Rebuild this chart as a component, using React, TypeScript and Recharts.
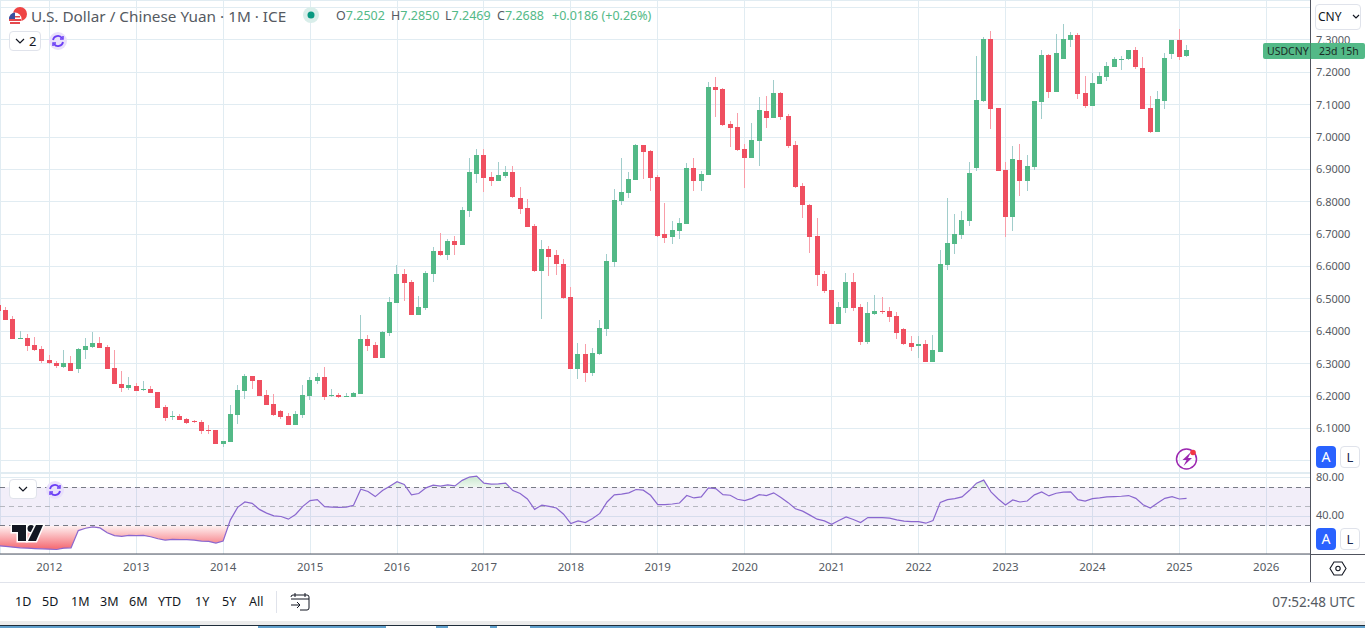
import { Area, Bar, CartesianGrid, ComposedChart, Line, ReferenceArea, ReferenceLine, XAxis, YAxis } from 'recharts';

// monthly candles, first one is Jun 2011 (index -7), index 0 = Jan 2012
const opens = [
  6.481, 6.466, 6.438, 6.376, 6.379, 6.357, 6.345,
  6.311, 6.302, 6.290, 6.302, 6.283, 6.342, 6.351, 6.364, 6.351, 6.286, 6.237, 6.225,
  6.231, 6.218, 6.221, 6.212, 6.166, 6.135, 6.138, 6.129, 6.123, 6.120, 6.095, 6.095,
  6.052, 6.058, 6.141, 6.215, 6.262, 6.249, 6.203, 6.175, 6.154, 6.138, 6.110, 6.141,
  6.200, 6.246, 6.259, 6.200, 6.203, 6.197, 6.197, 6.206, 6.376, 6.357, 6.317, 6.394,
  6.487, 6.577, 6.552, 6.450, 6.472, 6.577, 6.648, 6.635, 6.679, 6.666, 6.771, 6.886,
  6.944, 6.876, 6.864, 6.880, 6.892, 6.812, 6.781, 6.725, 6.586, 6.654, 6.635, 6.608,
  6.506, 6.283, 6.329, 6.271, 6.329, 6.407, 6.614, 6.802, 6.827, 6.867, 6.975, 6.957,
  6.876, 6.700, 6.691, 6.710, 6.731, 6.904, 6.864, 6.883, 7.154, 7.148, 7.040, 7.031,
  6.963, 6.935, 6.988, 7.080, 7.059, 7.136, 7.065, 6.975, 6.849, 6.790, 6.694, 6.577,
  6.527, 6.422, 6.472, 6.552, 6.475, 6.366, 6.453, 6.462, 6.462, 6.447, 6.407, 6.363,
  6.354, 6.360, 6.305, 6.336, 6.604, 6.669, 6.697, 6.740, 6.904, 7.111, 7.303, 7.089,
  6.898, 6.753, 6.929, 6.864, 6.907, 7.108, 7.253, 7.139, 7.241, 7.300, 7.315, 7.136,
  7.096, 7.164, 7.185, 7.216, 7.238, 7.241, 7.269, 7.213, 7.089, 7.015, 7.111, 7.256,
  7.300, 7.2502,
];
const closes = [
  6.464, 6.435, 6.376, 6.379, 6.354, 6.342, 6.308,
  6.302, 6.293, 6.302, 6.277, 6.345, 6.354, 6.364, 6.348, 6.283, 6.237, 6.225, 6.234,
  6.215, 6.221, 6.209, 6.163, 6.132, 6.138, 6.126, 6.117, 6.120, 6.092, 6.092, 6.052,
  6.061, 6.144, 6.218, 6.262, 6.246, 6.200, 6.172, 6.141, 6.135, 6.110, 6.144, 6.203,
  6.249, 6.259, 6.197, 6.203, 6.197, 6.200, 6.209, 6.376, 6.354, 6.317, 6.397, 6.490,
  6.577, 6.549, 6.450, 6.475, 6.580, 6.648, 6.635, 6.679, 6.666, 6.774, 6.892, 6.944,
  6.873, 6.864, 6.883, 6.892, 6.815, 6.777, 6.722, 6.586, 6.654, 6.629, 6.608, 6.502,
  6.283, 6.329, 6.271, 6.333, 6.410, 6.617, 6.805, 6.830, 6.870, 6.975, 6.954, 6.873,
  6.694, 6.688, 6.713, 6.734, 6.904, 6.864, 6.886, 7.154, 7.145, 7.037, 7.028, 6.960,
  6.935, 6.991, 7.083, 7.059, 7.136, 7.062, 6.972, 6.845, 6.790, 6.691, 6.574, 6.524,
  6.422, 6.475, 6.552, 6.472, 6.366, 6.456, 6.462, 6.459, 6.444, 6.394, 6.360, 6.351,
  6.360, 6.305, 6.342, 6.608, 6.672, 6.700, 6.743, 6.889, 7.114, 7.303, 7.086, 6.895,
  6.753, 6.932, 6.864, 6.910, 7.111, 7.253, 7.139, 7.259, 7.303, 7.315, 7.133, 7.096,
  7.167, 7.188, 7.219, 7.241, 7.241, 7.269, 7.216, 7.086, 7.015, 7.117, 7.244, 7.300,
  7.247, 7.2688,
];
const highs = [
  6.485, 6.474, 6.446, 6.401, 6.391, 6.382, 6.354,
  6.327, 6.308, 6.342, 6.324, 6.348, 6.379, 6.398, 6.382, 6.357, 6.342, 6.277, 6.259,
  6.240, 6.246, 6.231, 6.213, 6.172, 6.154, 6.144, 6.132, 6.126, 6.126, 6.110, 6.096,
  6.062, 6.172, 6.234, 6.268, 6.263, 6.250, 6.218, 6.206, 6.157, 6.147, 6.154, 6.234,
  6.259, 6.271, 6.290, 6.221, 6.209, 6.209, 6.212, 6.450, 6.388, 6.367, 6.400, 6.506,
  6.604, 6.592, 6.558, 6.509, 6.586, 6.660, 6.703, 6.685, 6.694, 6.784, 6.935, 6.963,
  6.963, 6.892, 6.923, 6.910, 6.910, 6.845, 6.808, 6.731, 6.682, 6.663, 6.651, 6.623,
  6.536, 6.363, 6.360, 6.348, 6.435, 6.638, 6.839, 6.935, 6.892, 6.978, 6.976, 6.960,
  6.883, 6.796, 6.740, 6.750, 6.920, 6.935, 6.895, 7.170, 7.185, 7.151, 7.049, 7.074,
  6.978, 7.043, 7.124, 7.127, 7.176, 7.139, 7.071, 6.988, 6.858, 6.793, 6.750, 6.586,
  6.528, 6.490, 6.580, 6.580, 6.484, 6.490, 6.512, 6.506, 6.475, 6.459, 6.410, 6.385,
  6.385, 6.373, 6.388, 6.651, 6.811, 6.762, 6.771, 6.923, 7.250, 7.309, 7.327, 7.090,
  6.923, 6.972, 6.978, 6.944, 7.112, 7.269, 7.256, 7.318, 7.349, 7.324, 7.321, 7.188,
  7.198, 7.201, 7.232, 7.247, 7.250, 7.270, 7.278, 7.247, 7.127, 7.142, 7.259, 7.301,
  7.334, 7.2850,
];
const lows = [
  6.463, 6.434, 6.375, 6.376, 6.339, 6.339, 6.302,
  6.299, 6.286, 6.286, 6.276, 6.271, 6.314, 6.348, 6.347, 6.282, 6.236, 6.212, 6.218,
  6.214, 6.217, 6.208, 6.162, 6.123, 6.126, 6.125, 6.113, 6.117, 6.083, 6.083, 6.051,
  6.042, 6.057, 6.113, 6.191, 6.221, 6.199, 6.171, 6.138, 6.129, 6.109, 6.109, 6.132,
  6.188, 6.237, 6.188, 6.198, 6.194, 6.196, 6.196, 6.205, 6.339, 6.316, 6.316, 6.385,
  6.486, 6.493, 6.449, 6.449, 6.465, 6.552, 6.634, 6.620, 6.635, 6.665, 6.753, 6.858,
  6.830, 6.849, 6.863, 6.873, 6.812, 6.762, 6.721, 6.583, 6.438, 6.571, 6.574, 6.501,
  6.282, 6.252, 6.243, 6.262, 6.326, 6.385, 6.598, 6.790, 6.812, 6.866, 6.870, 6.833,
  6.691, 6.672, 6.669, 6.685, 6.730, 6.833, 6.833, 6.882, 7.062, 7.034, 6.969, 6.957,
  6.842, 6.934, 6.910, 7.028, 7.058, 7.052, 6.966, 6.842, 6.750, 6.642, 6.540, 6.518,
  6.421, 6.421, 6.456, 6.462, 6.357, 6.360, 6.450, 6.453, 6.428, 6.376, 6.359, 6.339,
  6.317, 6.304, 6.304, 6.335, 6.589, 6.638, 6.685, 6.725, 6.895, 7.108, 7.025, 6.894,
  6.691, 6.709, 6.818, 6.833, 6.898, 7.056, 7.120, 7.138, 7.240, 7.278, 7.117, 7.089,
  7.095, 7.163, 7.173, 7.215, 7.207, 7.238, 7.210, 7.085, 7.012, 7.014, 7.086, 7.241,
  7.238, 7.2469,
];
const rsiValues = [
  9.1, 8.4, 7.6, 6.9, 6.6, 6.2, 5.9,
  5.5, 5.2, 6.6, 6.9, 24.9, 27.3, 28.7, 27.7, 22.7, 19.6, 18.9, 19.9,
  19.6, 19.9, 18.5, 16.4, 15.0, 15.7, 15.4, 15.4, 15.0, 14.0, 13.6, 11.9,
  14.0, 36.1, 49.1, 54.7, 53.3, 47.0, 43.1, 40.3, 39.6, 36.8, 41.7, 50.1,
  56.1, 57.2, 49.8, 49.4, 49.1, 49.4, 51.2, 68.0, 65.6, 60.3, 66.6, 71.2,
  75.8, 73.0, 62.1, 63.5, 69.4, 72.2, 71.2, 72.6, 71.5, 77.2, 80.7, 81.7,
  74.3, 73.3, 73.6, 74.3, 66.6, 63.5, 57.8, 47.0, 51.5, 50.1, 48.4, 42.0,
  32.2, 35.0, 33.3, 37.5, 42.8, 54.7, 62.1, 62.8, 64.2, 67.7, 67.0, 61.7,
  51.9, 51.9, 52.6, 53.6, 61.4, 58.9, 60.0, 69.4, 68.7, 62.4, 61.7, 57.5,
  56.1, 58.5, 62.4, 61.4, 64.2, 59.3, 54.0, 47.7, 45.2, 41.0, 36.8, 35.0,
  31.5, 35.4, 39.2, 36.4, 33.3, 38.5, 38.5, 38.5, 37.8, 36.1, 34.7, 34.3,
  34.3, 32.6, 35.4, 54.3, 57.2, 58.2, 60.0, 66.6, 74.3, 77.5, 65.2, 57.8,
  51.5, 56.8, 54.7, 55.7, 62.1, 65.2, 61.0, 63.8, 64.9, 65.2, 57.2, 55.7,
  58.2, 58.9, 60.0, 60.3, 60.7, 61.4, 58.5, 51.9, 48.4, 53.6, 58.5, 60.3,
  57.8, 58.5,
];
const firstMonth = -7;
const yearTicks = [0, 12, 24, 36, 48, 60, 72, 84, 96, 108, 120, 132, 144, 156, 168];
const yearLabels = ['2012', '2013', '2014', '2015', '2016', '2017', '2018', '2019', '2020', '2021', '2022', '2023', '2024', '2025', '2026'];
const priceTicks = [6.0, 6.1, 6.2, 6.3, 6.4, 6.5, 6.6, 6.7, 6.8, 6.9, 7.0, 7.1, 7.2, 7.3, 7.4];
const rsiTicks = [40, 80];

const rows = opens.map((open, i) => ({
  month: i + firstMonth,
  open,
  close: closes[i],
  high: highs[i],
  low: lows[i],
  rsi: rsiValues[i],
}));

const xDomain: [number, number] = [-6.806, 174.04];
const priceDomain: [number, number] = [5.9653, 7.4232];
const rsiDomain: [number, number] = [0.5, 84.9];

const FONT = '"Noto Sans", sans-serif';
const GRID = '#e1ecf2';
const TEXT = '#555a62';
const UP = '#53b987';
const DOWN = '#ef4f60';
const UP_WICK = '#a1cdcb';
const DOWN_WICK = '#f89ea9';

function Candle(props: any) {
  const { x, width, y, height, payload } = props;
  const { open, close, high, low } = payload;
  const toY = (v: number) => y + ((high - v) / (high - low)) * height;
  const up = close >= open;
  const left = Math.round(x + width / 2 - 2.5);
  const top = Math.round(toY(Math.max(open, close)));
  const bottom = Math.round(toY(Math.min(open, close)));
  const wickTop = Math.round(y);
  const wickBottom = Math.round(y + height);
  return (
    <g shapeRendering="crispEdges">
      <rect x={left + 2} y={wickTop} width={1} height={Math.max(wickBottom - wickTop, 1)} fill={up ? UP_WICK : DOWN_WICK} />
      <rect x={left} y={top} width={5} height={Math.max(bottom - top, 1)} fill={up ? UP : DOWN} />
    </g>
  );
}

function Txt({ x, y, right, size = 13, color = TEXT, children }: any) {
  const pos = right !== undefined ? { right } : { left: x };
  return (
    <div style={{ position: 'absolute', top: y, ...pos, fontSize: size, lineHeight: '18px', color, whiteSpace: 'nowrap' }}>
      {children}
    </div>
  );
}

function Box({ x, y, w, h, border = '#e0e3eb', bg = '#fff', radius = 4, children }: any) {
  return (
    <div
      style={{
        position: 'absolute', left: x, top: y, width: w, height: h, boxSizing: 'border-box',
        border: border === 'none' ? 'none' : `1px solid ${border}`, background: bg, borderRadius: radius,
      }}
    >
      {children}
    </div>
  );
}

function Refresh({ cx, cy }: { cx: number; cy: number }) {
  return (
    <g>
      <circle cx={cx} cy={cy} r={9} fill="#e9e0fb" />
      <path d={`M${cx - 5} ${cy - 1}a5 5 0 0 1 9 -2M${cx + 5} ${cy + 1}a5 5 0 0 1 -9 2`} fill="none" stroke="#6a3df5" strokeWidth={1.8} />
      <path d={`M${cx + 5} ${cy - 5}v3h-3M${cx - 5} ${cy + 5}v-3h3`} fill="none" stroke="#6a3df5" strokeWidth={1.5} />
    </g>
  );
}

function ScaleButtons({ y }: { y: number }) {
  return (
    <>
      <Box x={1316} y={y} w={20} h={22} border="none" bg="#2962ff" radius={4}>
        <div style={{ textAlign: 'center', color: '#fff', fontSize: 14, lineHeight: '22px' }}>A</div>
      </Box>
      <Box x={1340} y={y} w={20} h={22} bg="#fff" radius={4}>
        <div style={{ textAlign: 'center', color: '#1c2a52', fontSize: 13, lineHeight: '20px' }}>L</div>
      </Box>
    </>
  );
}

const rangeButtons: [string, number][] = [['1D', 15], ['5D', 42], ['1M', 71], ['3M', 100], ['6M', 129], ['YTD', 158], ['1Y', 195], ['5Y', 222], ['All', 249]];
const taskbarTabs: [number, number][] = [[200, 58], [386, 50], [448, 42], [497, 33]];

export default function App() {
  return (
    <div style={{ position: 'absolute', left: 0, top: 0, width: 1365, height: 628, overflow: 'hidden', background: '#fff', fontFamily: FONT }}>
      <div style={{ position: 'absolute', left: 0, top: 0 }}>
        <ComposedChart width={1365} height={472} data={rows} margin={{ top: 0, right: 0, bottom: 0, left: 0 }}>
          <CartesianGrid stroke={GRID} shapeRendering="crispEdges" />
          <XAxis dataKey="month" type="number" domain={xDomain} ticks={yearTicks} allowDataOverflow hide />
          <YAxis
            orientation="right"
            width={55}
            domain={priceDomain}
            ticks={priceTicks}
            allowDataOverflow
            axisLine={false}
            tickLine={false}
            tickMargin={0}
            tick={{ fontSize: 11, fill: TEXT, fontFamily: FONT }}
            tickFormatter={(v: number) => (v === 6.0 || v === 7.4 ? '' : v.toFixed(4))}
          />
          <Bar dataKey={(d: any) => [d.low, d.high]} barSize={5} shape={<Candle />} isAnimationActive={false} />
        </ComposedChart>
      </div>

      <div style={{ position: 'absolute', left: 0, top: 463 }}>
        <ComposedChart width={1365} height={119} data={rows} margin={{ top: 10, right: 0, bottom: 0, left: 0 }}>
          <defs>
            <linearGradient id="rsiFill" gradientUnits="userSpaceOnUse" x1={0} y1={10} x2={0} y2={91}>
              <stop offset={0} stopColor="#bfe3c6" />
              <stop offset={0.1765} stopColor="#eef8ef" />
              <stop offset={0.1765} stopColor="#fff" stopOpacity={0} />
              <stop offset={0.6505} stopColor="#fff" stopOpacity={0} />
              <stop offset={0.6505} stopColor="#fff2f2" />
              <stop offset={0.92} stopColor="#f5727a" />
            </linearGradient>
          </defs>
          <CartesianGrid stroke={GRID} shapeRendering="crispEdges" />
          <ReferenceArea y1={30} y2={70} fill="#7e57c2" fillOpacity={0.1} stroke="none" />
          <ReferenceLine y={70} stroke="#787b86" strokeDasharray="5 4" shapeRendering="crispEdges" />
          <ReferenceLine y={50} stroke="#b6b8c0" strokeDasharray="5 4" shapeRendering="crispEdges" />
          <ReferenceLine y={30} stroke="#787b86" strokeDasharray="5 4" shapeRendering="crispEdges" />
          <XAxis
            dataKey="month"
            type="number"
            domain={xDomain}
            ticks={yearTicks}
            allowDataOverflow
            height={28}
            axisLine={{ stroke: '#50535e' }}
            tickLine={false}
            tickMargin={3}
            tick={{ fontSize: 11.5, fill: TEXT, fontFamily: FONT }}
            tickFormatter={(v: number) => yearLabels[yearTicks.indexOf(v)]}
          />
          <YAxis
            orientation="right"
            width={55}
            domain={rsiDomain}
            ticks={rsiTicks}
            axisLine={false}
            tickLine={false}
            tickMargin={0}
            tick={{ fontSize: 11, fill: TEXT, fontFamily: FONT, dy: -1 }}
            tickFormatter={(v: number) => v.toFixed(2)}
          />
          <Area dataKey="rsi" baseValue={30} fill="url(#rsiFill)" fillOpacity={1} stroke="none" isAnimationActive={false} />
          <Line dataKey="rsi" stroke="#8a67cf" strokeWidth={1.2} dot={false} isAnimationActive={false} />
        </ComposedChart>
      </div>

      {/* frame lines */}
      <div style={{ position: 'absolute', left: 1310, top: 0, width: 1, height: 582, background: '#50535e' }} />
      <div style={{ position: 'absolute', left: 0, top: 472, width: 1310, height: 1, background: GRID }} />
      <div style={{ position: 'absolute', left: 1310, top: 554, width: 55, height: 1, background: '#50535e' }} />
      <div style={{ position: 'absolute', left: 0, top: 582, width: 1365, height: 1, background: '#e0e3eb' }} />

      {/* window edge at the bottom of the screenshot */}
      <div style={{ position: 'absolute', left: 0, top: 621, width: 1365, height: 4, background: '#ececec' }} />
      <div style={{ position: 'absolute', left: 0, top: 625, width: 1365, height: 1, background: '#1f2d3a' }} />
      <div style={{ position: 'absolute', left: 0, top: 626, width: 1365, height: 2, background: '#5f9fcc' }} />
      {taskbarTabs.map(([x, w]) => (
        <div key={x} style={{ position: 'absolute', left: x, top: 626, width: w, height: 2, background: '#fff' }} />
      ))}

      {/* last price badge */}
      <div style={{ position: 'absolute', left: 1263, top: 43, width: 102, height: 16, background: UP, borderRadius: 2 }} />
      <div style={{ position: 'absolute', left: 1310, top: 43, width: 1, height: 16, background: '#3f7f63' }} />
      <Txt x={1267} y={42} size={10.5} color="#1b2b26">USDCNY</Txt>
      <Txt x={1319} y={42} size={10.5} color="#1b2b26">23d 15h</Txt>

      {/* header */}
      <Txt x={31} y={7} size={15.3}>U.S. Dollar / Chinese Yuan · 1M · ICE</Txt>
      <Txt x={336} y={7} size={12.5}>O<span style={{ color: UP }}>7.2502</span></Txt>
      <Txt x={391} y={7} size={12.5}>H<span style={{ color: UP }}>7.2850</span></Txt>
      <Txt x={445} y={7} size={12.5}>L<span style={{ color: UP }}>7.2469</span></Txt>
      <Txt x={497} y={7} size={12.5}>C<span style={{ color: UP }}>7.2688</span></Txt>
      <Txt x={552} y={7} size={12.5} color={UP}>+0.0186 (+0.26%)</Txt>

      <Box x={9} y={31} w={32} h={20}>
        <div style={{ fontSize: 13, lineHeight: '18px', color: '#131722', paddingLeft: 19 }}>2</div>
      </Box>
      <Box x={9} y={479} w={28} h={20} />
      <Box x={1315} y={4} w={46} h={26}>
        <div style={{ fontSize: 12, lineHeight: '24px', color: '#131722', paddingLeft: 2 }}>CNY</div>
      </Box>
      <ScaleButtons y={446} />
      <ScaleButtons y={528} />

      {/* icons */}
      <svg width={1365} height={628} style={{ position: 'absolute', left: 0, top: 0, pointerEvents: 'none' }}>
        <circle cx={20} cy={14} r={7} fill="#ef4444" />
        <circle cx={15} cy={19} r={6.5} fill="#fff" />
        <path d="M9 19h12v2h-12zM10 22h10v2h-10zM10 16h10v1.5h-10z" fill="#e5484d" />
        <path d="M9 19a6.5 6.5 0 0 1 6 -6.5v6.5z" fill="#3b4f9e" />
        <circle cx={311} cy={15} r={8} fill="#d9eeea" />
        <circle cx={311} cy={15} r={3.5} fill="#089981" />
        <path d="M16 39l4 4l4 -4" fill="none" stroke="#131722" strokeWidth={1.2} />
        <path d="M19 487l4 4l4 -4" fill="none" stroke="#131722" strokeWidth={1.2} />
        <path d="M1353 15l3 3l3 -3" fill="none" stroke="#131722" strokeWidth={1.2} />
        <Refresh cx={58} cy={41} />
        <Refresh cx={55} cy={490} />

        {/* tv logo */}
        <g stroke="#fff" strokeWidth={3} paintOrder="stroke" fill="#131722">
          <path d="M12 525h14v16h-8v-9h-6z" />
          <circle cx={31} cy={528.5} r={3.5} />
          <path d="M36 525h7l-7 16h-8z" />
        </g>

        {/* deep backtest bolt */}
        <circle cx={1186.5} cy={459} r={10} fill="none" stroke="#9c27b0" strokeWidth={1.5} />
        <path d="M1191 452l-8.5 8h4l-3 6l8.5 -8h-4z" fill="#9c27b0" />
        <circle cx={1193} cy={452.5} r={2.8} fill="#f23645" />

        {/* settings hexagon */}
        <path d="M1334 562h8l4 6.5l-4 6.5h-8l-4 -6.5z" fill="none" stroke="#131722" strokeWidth={1.1} />
        <circle cx={1338} cy={568.5} r={2.2} fill="none" stroke="#131722" strokeWidth={1.1} />

        {/* calendar */}
        <path d="M291 597a2 2 0 0 1 2 -2h14a2 2 0 0 1 2 2v11a2 2 0 0 1 -2 2h-7M291 599h18M295 593v4M305 593v4" fill="none" stroke="#131722" strokeWidth={1} />
        <path d="M291 605h9l-3 -3M300 605l-3 3" fill="none" stroke="#131722" strokeWidth={1} />
      </svg>

      {/* range row */}
      {rangeButtons.map(([label, x]) => (
        <Txt key={label} x={x} y={593} size={12.5} color="#131722">{label}</Txt>
      ))}
      <div style={{ position: 'absolute', left: 276, top: 591, width: 1, height: 22, background: '#e0e3eb' }} />
      <Txt right={10} y={593} size={13.5}>07:52:48 UTC</Txt>
    </div>
  );
}
